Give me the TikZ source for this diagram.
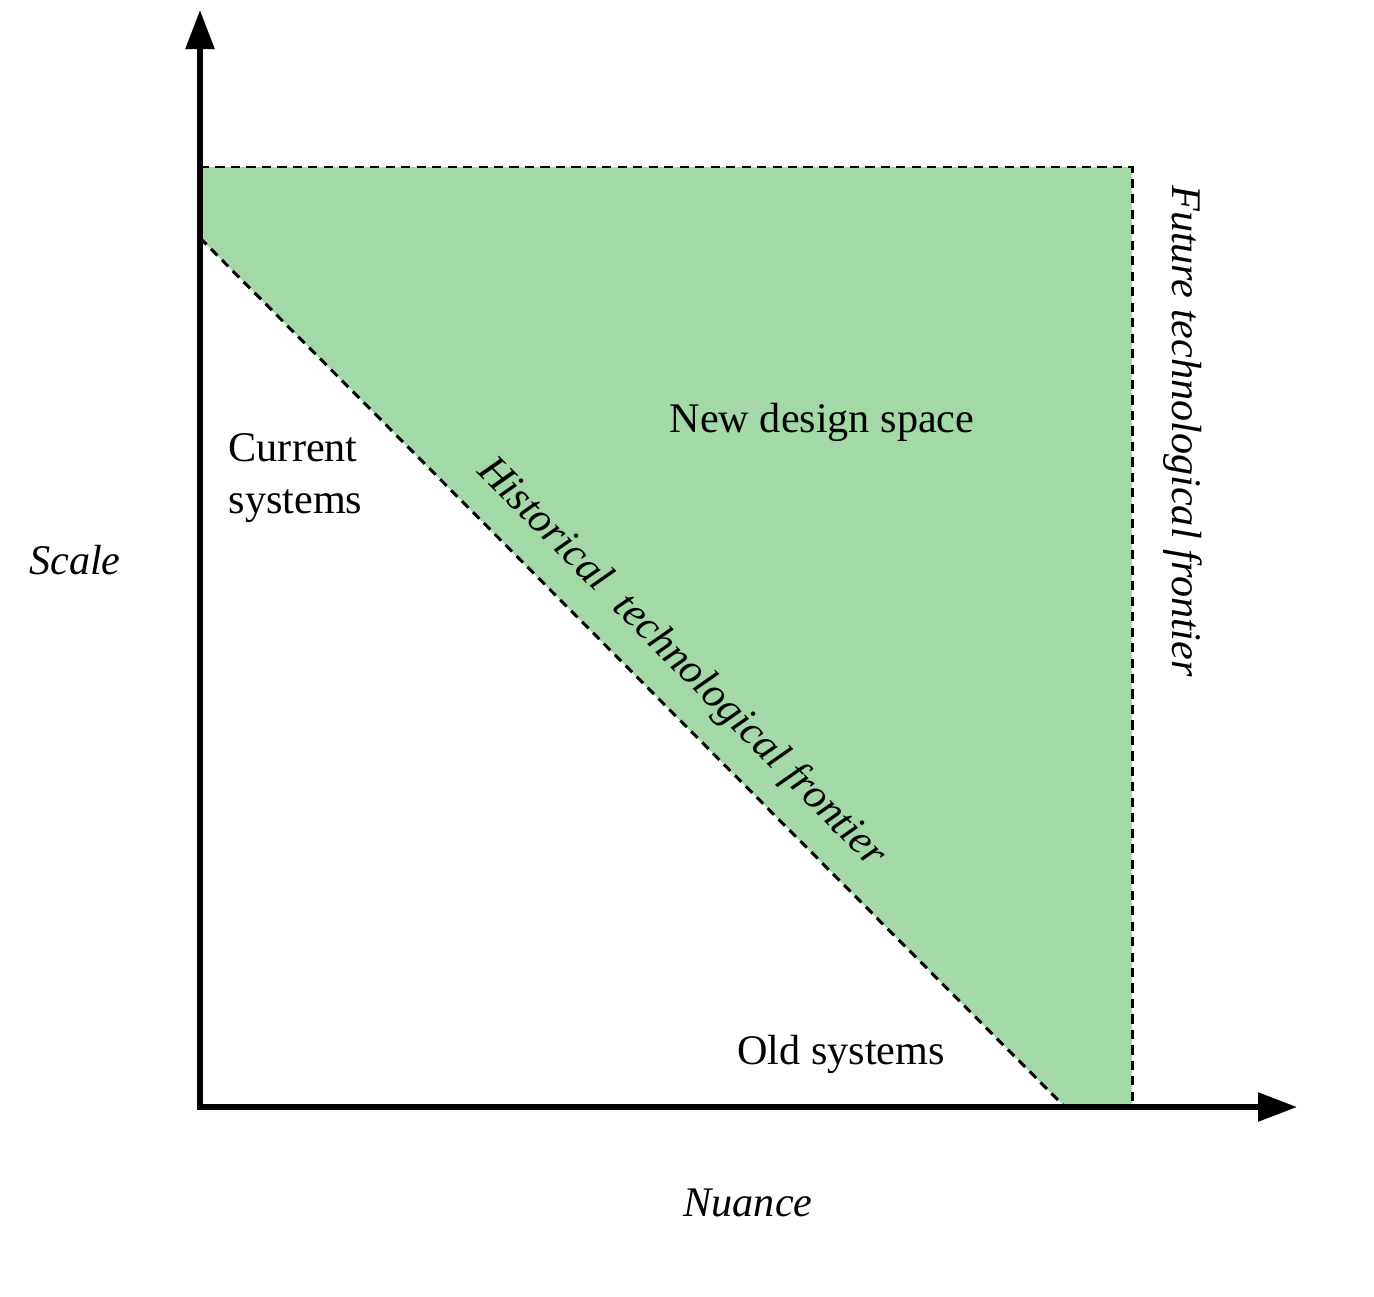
\documentclass[tikz,border=0pt]{standalone}
\usepackage{fontspec}
\setmainfont{Liberation Serif}
\usetikzlibrary{arrows.meta, positioning}
\definecolor{spacegreen}{RGB}{163,216,167}

\begin{document}
\begin{tikzpicture}[x=0.01cm, y=0.01cm,
    axis/.style={line width=1.6pt, {Triangle[length=0.39cm, width=0.28cm]}-{Triangle[length=0.39cm, width=0.28cm]}},
    frontier/.style={dash pattern=on 2.6pt off 1.8pt, line width=0.85pt},
    lbl/.style={font=\fontsize{12}{14.8}\selectfont, inner sep=0pt}]
    \useasboundingbox (-200,-189) rectangle (1174,1107);
    \coordinate (O) at (0,0);
    \coordinate (yend) at (0,1097);
    \coordinate (xend) at (1097,0);
    \coordinate (topleft) at (0,940);
    \coordinate (topright) at (932,940);
    \coordinate (botright) at (932,0);
    \coordinate (histtop) at (0,869);
    \coordinate (histbot) at (865,0);
    % new design space
    \fill[spacegreen] (topleft) -- (topright) -- (botright) -- (histbot) -- (histtop) -- cycle;
    \draw[frontier] (histtop) -- (histbot);
    \draw[frontier] (topleft) -- (topright) -- (botright);
    % axes
    \draw[axis] (yend) -- (O) -- (xend);
    \node[lbl, font=\fontsize{12}{14.8}\selectfont\itshape] (scale) at (-125,547) {Scale};
    \node[lbl, font=\fontsize{12}{14.8}\selectfont\itshape] (nuance) at (548,-96) {Nuance};
    \node[lbl, align=left, anchor=north west] (current) at (28,674) {Current\\systems};
    \node[lbl] (newspace) at (622,685) {New design space};
    \node[lbl] (old) at (641,53) {Old systems};
    \node[lbl, font=\fontsize{12}{14.8}\selectfont\itshape, rotate=-90] (future) at (983,676) {Future technological frontier};
    \node[lbl, font=\fontsize{12}{14.8}\selectfont\itshape, rotate=-45.1] (historical) at (481,444) {Historical\ \ technological frontier};
\end{tikzpicture}
\end{document}
